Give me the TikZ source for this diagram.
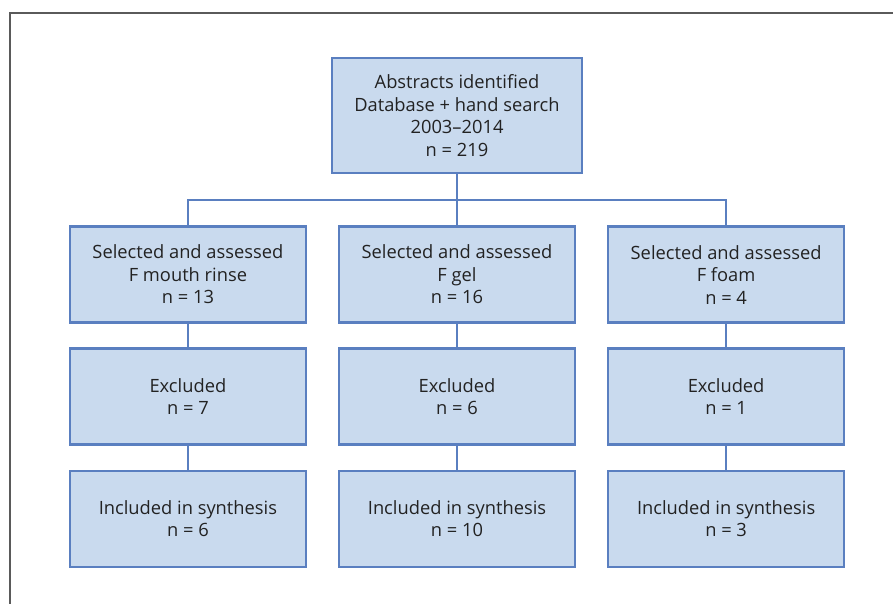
\documentclass[tikz,border=0pt]{standalone}
\usepackage{fontspec}
\setmainfont{Open Sans}
\usetikzlibrary{positioning,calc}
\definecolor{boxfill}{HTML}{C9DAEE}
\definecolor{boxline}{HTML}{5A7FC0}
\definecolor{frameline}{HTML}{5A5A5A}
\definecolor{boxtext}{HTML}{222222}

\begin{document}
\begin{tikzpicture}[x=1pt,y=-1pt,node distance=23.5pt and 30.5pt,
    box/.style={draw=boxline,fill=boxfill,line width=2.6pt,minimum width=236pt,minimum height=96pt,
        inner sep=0pt,align=center,text=boxtext,font=\fontsize{18.3}{22.5}\selectfont},
    link/.style={draw=boxline,line width=2.6pt}]

    \useasboundingbox (0,0) rectangle (893,604);
    \draw[frameline,line width=1.5pt] (10,604) -- (10,13) -- (893,13);

    \node[box,minimum width=250pt,minimum height=115pt] (abs) at (457,115.5) {Abstracts identified\\Database + hand search\\2003--2014\\n = 219};
    \node[box] (selgel) [below=51pt of abs] {Selected and assessed\\F gel\\n = 16};
    \node[box] (selrinse) [left=of selgel] {Selected and assessed\\F mouth rinse\\n = 13};
    \node[box] (selfoam) [right=of selgel] {Selected and assessed\\F foam\\n = 4};

    \node[box] (exrinse) [below=of selrinse] {Excluded\\n = 7};
    \node[box] (exgel) [below=of selgel] {Excluded\\n = 6};
    \node[box] (exfoam) [below=of selfoam] {Excluded\\n = 1};

    \node[box] (inrinse) [below=of exrinse] {Included in synthesis\\n = 6};
    \node[box] (ingel) [below=of exgel] {Included in synthesis\\n = 10};
    \node[box] (infoam) [below=of exfoam] {Included in synthesis\\n = 3};

    \coordinate (split) at ($(abs.south)!.5!(selgel.north)$);
    \path[link]
        (abs) -- (selgel)
        (selrinse.north) |- (split) -| (selfoam.north)
        ;
    \foreach \col in {rinse,gel,foam}{
        \path[link] (sel\col) -- (ex\col) (ex\col) -- (in\col);
    }
\end{tikzpicture}
\end{document}
